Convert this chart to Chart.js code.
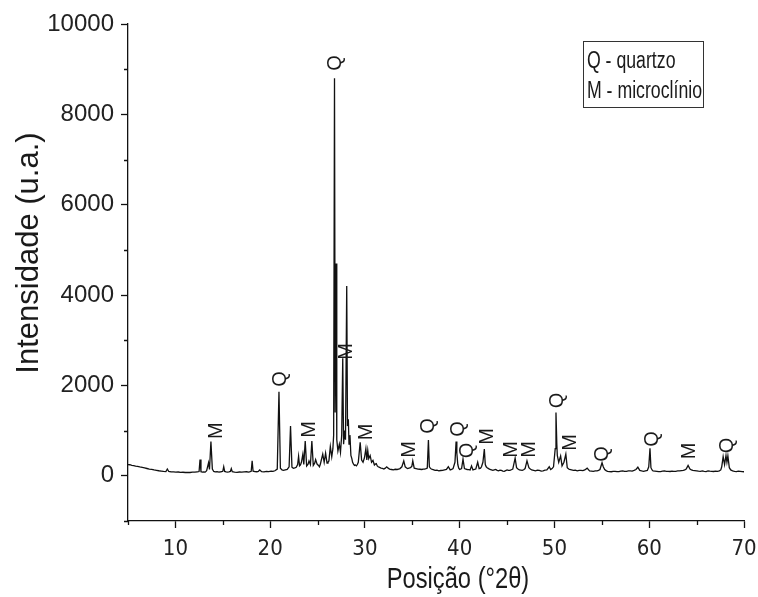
<!DOCTYPE html>
<html>
<head>
<meta charset="utf-8">
<script src="https://cdn.jsdelivr.net/npm/chart.js@4.4.1/dist/chart.umd.min.js"></script>
<style>
  html, body { margin: 0; padding: 0; background: #fff; }
  #wrap { width: 758px; height: 597px; }
</style>
</head>
<body>
<div id="wrap"><canvas id="c" width="758" height="597"></canvas></div>
<script>
// 2θ positions (degrees)
const twoTheta = [
  5.0, 5.2, 5.4, 5.6, 5.8, 6.0, 6.25, 6.5, 6.75, 7.0,
  7.25, 7.5, 7.75, 8.0, 8.25, 8.5, 8.75, 9.0, 9.15, 9.3,
  9.55, 9.8, 10.05, 10.3, 10.55, 10.8, 11.05, 11.3, 11.55, 11.8,
  12.05, 12.3, 12.5, 12.6, 12.7, 12.85, 13.0, 13.15, 13.3, 13.5,
  13.6, 13.75, 13.9, 14.05, 14.2, 14.4, 14.6, 14.8, 15.0, 15.1,
  15.2, 15.35, 15.5, 15.65, 15.8, 15.9, 16.0, 16.25, 16.5, 16.75,
  17.0, 17.25, 17.5, 17.75, 18.0, 18.1, 18.2, 18.4, 18.6, 18.75,
  18.9, 19.1, 19.35, 19.6, 19.85, 20.1, 20.3, 20.5, 20.75, 20.93,
  21.08, 21.25, 21.4, 21.6, 21.8, 22.0, 22.15, 22.3, 22.45, 22.6,
  22.75, 22.9, 23.0, 23.1, 23.2, 23.3, 23.45, 23.55, 23.7, 23.85,
  24.0, 24.1, 24.25, 24.4, 24.55, 24.7, 24.8, 24.95, 25.1, 25.2,
  25.3, 25.4, 25.55, 25.7, 25.85, 26.0, 26.1, 26.2, 26.35, 26.5,
  26.62, 26.7, 26.79, 26.86, 26.95, 27.03, 27.15, 27.3, 27.42, 27.55,
  27.66, 27.75, 27.85, 27.95, 28.08, 28.16, 28.25, 28.32, 28.42, 28.52,
  28.62, 28.7, 28.8, 28.9, 29.0, 29.1, 29.2, 29.3, 29.5, 29.65,
  29.8, 29.95, 30.1, 30.2, 30.3, 30.4, 30.55, 30.7, 30.85, 31.0,
  31.1, 31.2, 31.3, 31.4, 31.55, 31.7, 31.85, 32.0, 32.15, 32.3,
  32.45, 32.6, 32.8, 33.0, 33.2, 33.4, 33.55, 33.7, 33.9, 34.1,
  34.25, 34.4, 34.5, 34.65, 34.8, 34.95, 35.05, 35.2, 35.4, 35.6,
  35.8, 36.0, 36.15, 36.3, 36.45, 36.58, 36.7, 36.8, 36.9, 37.0,
  37.2, 37.4, 37.6, 37.8, 38.0, 38.2, 38.4, 38.6, 38.8, 39.0,
  39.15, 39.3, 39.5, 39.62, 39.7, 39.8, 39.9, 40.0, 40.2, 40.35,
  40.5, 40.65, 40.8, 40.95, 41.1, 41.25, 41.4, 41.55, 41.7, 41.9,
  42.05, 42.2, 42.3, 42.45, 42.6, 42.7, 42.8, 42.9, 43.05, 43.2,
  43.35, 43.5, 43.65, 43.8, 43.95, 44.1, 44.25, 44.4, 44.55, 44.7,
  44.85, 45.0, 45.15, 45.3, 45.45, 45.6, 45.85, 46.0, 46.15, 46.3,
  46.45, 46.6, 46.75, 46.9, 47.1, 47.3, 47.45, 47.6, 47.8, 48.0,
  48.2, 48.4, 48.6, 48.8, 49.0, 49.2, 49.45, 49.6, 49.75, 49.9,
  50.08, 50.16, 50.25, 50.3, 50.45, 50.65, 50.8, 51.0, 51.2, 51.35,
  51.5, 51.6, 51.8, 52.0, 52.2, 52.4, 52.6, 52.8, 53.0, 53.2,
  53.45, 53.7, 53.9, 54.1, 54.3, 54.5, 54.65, 54.8, 55.02, 55.15,
  55.3, 55.45, 55.6, 55.8, 56.0, 56.2, 56.4, 56.6, 56.8, 57.0,
  57.2, 57.4, 57.6, 57.8, 58.0, 58.2, 58.4, 58.6, 58.8, 59.0,
  59.2, 59.4, 59.6, 59.8, 59.95, 60.08, 60.18, 60.3, 60.4, 60.6,
  60.8, 61.0, 61.2, 61.4, 61.6, 61.8, 62.0, 62.2, 62.4, 62.6,
  62.8, 63.0, 63.2, 63.4, 63.6, 63.75, 63.9, 64.1, 64.3, 64.45,
  64.6, 64.8, 65.0, 65.2, 65.4, 65.6, 65.8, 66.0, 66.2, 66.4,
  66.6, 66.8, 67.0, 67.2, 67.4, 67.55, 67.65, 67.8, 67.95, 68.1,
  68.2, 68.3, 68.45, 68.6, 68.8, 69.0, 69.2, 69.4, 69.6, 69.8,
  70.0
];
// Intensity (u.a.) at each 2θ position
const intensity = [
  250, 245, 232, 228, 215, 208, 196, 188, 175, 162,
  150, 143, 130, 122, 112, 106, 98, 95, 150, 96,
  88, 86, 80, 84, 76, 79, 73, 78, 74, 82,
  80, 88, 95, 360, 92, 84, 88, 82, 112, 290,
  140, 760, 150, 96, 88, 92, 84, 90, 100, 200,
  96, 86, 80, 86, 96, 160, 90, 82, 78, 84,
  80, 86, 90, 84, 100, 330, 102, 94, 90, 96,
  130, 92, 88, 96, 92, 102, 98, 112, 150, 1860,
  170, 130, 122, 132, 142, 200, 1100, 190, 165, 175,
  190, 250, 430, 220, 240, 300, 480, 250, 770, 220,
  260, 330, 250, 770, 230, 280, 360, 260, 230, 200,
  260, 350, 480, 300, 500, 280, 300, 330, 650, 420,
  600, 900, 8800, 1400, 4700, 800, 550, 700, 520, 900,
  2600, 700, 1000, 800, 4200, 1100, 1250, 700, 900, 450,
  380, 300, 260, 230, 240, 220, 250, 300, 740, 350,
  300, 400, 600, 350, 560, 380, 450, 300, 340, 240,
  260, 270, 220, 200, 185, 170, 165, 150, 170, 200,
  170, 150, 140, 130, 145, 140, 150, 160, 200, 330,
  200, 175, 160, 170, 180, 210, 330, 170, 160, 150,
  145, 140, 150, 150, 160, 170, 790, 200, 170, 150,
  135, 120, 125, 110, 118, 120, 130, 140, 200, 130,
  140, 160, 300, 760, 500, 250, 170, 140, 160, 370,
  160, 150, 140, 135, 130, 220, 130, 140, 150, 300,
  160, 170, 200, 300, 590, 250, 200, 180, 160, 140,
  130, 120, 130, 140, 120, 110, 125, 120, 105, 100,
  115, 130, 120, 120, 135, 150, 390, 180, 150, 130,
  125, 120, 135, 160, 330, 180, 150, 130, 120, 110,
  125, 120, 105, 110, 125, 130, 200, 140, 160, 200,
  600, 1400, 700, 450, 300, 440, 220, 300, 480, 180,
  150, 140, 130, 120, 125, 110, 120, 120, 115, 130,
  170, 110, 105, 100, 110, 110, 120, 140, 290, 200,
  140, 115, 100, 95, 90, 98, 100, 92, 95, 105,
  110, 98, 100, 108, 110, 105, 120, 140, 190, 120,
  108, 100, 110, 120, 200, 610, 180, 130, 110, 105,
  100, 92, 95, 104, 110, 98, 100, 96, 105, 98,
  100, 108, 110, 115, 120, 130, 150, 230, 150, 130,
  120, 115, 110, 104, 100, 108, 100, 95, 110, 104,
  100, 96, 105, 100, 110, 130, 200, 425, 250, 450,
  300, 440, 180, 130, 110, 100, 95, 104, 100, 92,
  90
];
// Phase labels: text, 2θ and intensity where each rotated label sits
const peakLabels = ['M', 'Q', 'M', 'Q', 'M', 'M', 'M', 'Q', 'Q', 'Q', 'M', 'M', 'M', 'Q', 'M', 'Q', 'Q', 'M', 'Q'];
const peakLabelX = [14.18, 20.99, 24.05, 26.74, 27.90, 30.01, 34.60, 36.60, 39.72, 40.67, 42.78, 45.31, 47.31, 50.21, 51.59, 54.96, 60.24, 64.14, 68.15];
const peakLabelY = [1002, 2142, 1025, 9135, 2751, 969, 582, 1102, 1036, 560, 870, 582, 582, 1666, 737, 482, 814, 549, 671];
// Legend entries
const legendLines = ['Q - quartzo', 'M - microclínio'];
// Axis ticks
const xMajorTicks = [10, 20, 30, 40, 50, 60, 70];
const xMinorTicks = [5, 15, 25, 35, 45, 55, 65];
const yMajorTicks = [0, 2000, 4000, 6000, 8000, 10000];
const yMinorTicks = [-1000, 1000, 3000, 5000, 7000, 9000];
const xTitle = 'Posição (°2θ)';
const yTitle = 'Intensidade (u.a.)';

const FONT = "'Liberation Sans', Arial, Helvetica, sans-serif";
const NARROW = "'DejaVu Sans Condensed', 'Liberation Sans', sans-serif";
Chart.defaults.font.family = FONT;

const points = twoTheta.map((t, i) => ({ x: t, y: intensity[i] }));

// draw text horizontally condensed by factor sx around (x, y)
function condensedText(ctx, text, x, y, sx) {
  ctx.save();
  ctx.translate(x, y);
  ctx.scale(sx, 1);
  ctx.fillText(text, 0, 0);
  ctx.restore();
}

const decor = {
  id: 'decor',
  afterDraw(chart) {
    const ctx = chart.ctx;
    const xs = chart.scales.x, ys = chart.scales.y;
    ctx.save();
    ctx.strokeStyle = '#111';
    ctx.lineWidth = 1.3;
    // minor ticks
    ctx.beginPath();
    xMinorTicks.forEach(v => {
      const px = Math.round(xs.getPixelForValue(v)) + 0.5;
      ctx.moveTo(px, ys.bottom); ctx.lineTo(px, ys.bottom + 4);
    });
    yMinorTicks.forEach(v => {
      const py = Math.round(ys.getPixelForValue(v)) + 0.5;
      ctx.moveTo(xs.left, py); ctx.lineTo(xs.left - 4, py);
    });
    ctx.stroke();

    // peak labels, rotated
    ctx.fillStyle = '#1a1a1a';
    ctx.font = '20px ' + FONT;
    ctx.textAlign = 'center';
    ctx.textBaseline = 'middle';
    peakLabels.forEach((t, i) => {
      const px = xs.getPixelForValue(peakLabelX[i]);
      const py = ys.getPixelForValue(peakLabelY[i]);
      ctx.save();
      ctx.translate(px, py);
      ctx.rotate(-Math.PI / 2);
      ctx.fillText(t, 0, 1);
      ctx.restore();
    });

    // legend box
    const lx = xs.getPixelForValue(53.0), rx = xs.getPixelForValue(65.67);
    const ty = ys.getPixelForValue(9622), by = ys.getPixelForValue(8161);
    ctx.lineWidth = 1;
    ctx.strokeStyle = '#333';
    ctx.strokeRect(Math.round(lx) + 0.5, Math.round(ty) + 0.5, Math.round(rx - lx), Math.round(by - ty));
    ctx.font = '23px ' + FONT;
    ctx.textAlign = 'left';
    ctx.textBaseline = 'alphabetic';
    ctx.fillStyle = '#1a1a1a';
    condensedText(ctx, legendLines[0], lx + 4, ty + 27, 0.77);
    condensedText(ctx, legendLines[1], lx + 4, ty + 57, 0.77);

    // axis titles
    ctx.textAlign = 'center';
    ctx.textBaseline = 'middle';
    ctx.font = '30px ' + FONT;
    condensedText(ctx, xTitle, 458, 580, 0.79);
    ctx.font = '31px ' + FONT;
    ctx.save();
    ctx.translate(29, 253);
    ctx.rotate(-Math.PI / 2);
    ctx.fillText(yTitle, 0, 0);
    ctx.restore();
    ctx.restore();
  }
};

new Chart(document.getElementById('c'), {
  type: 'line',
  data: {
    datasets: [{
      data: points,
      borderColor: '#111',
      borderWidth: 1.3,
      pointRadius: 0,
      tension: 0,
      fill: false
    }]
  },
  options: {
    responsive: false,
    animation: false,
    layout: { padding: { left: 0, right: 14, top: 24, bottom: 0 } },
    plugins: { legend: { display: false }, tooltip: { enabled: false } },
    scales: {
      x: {
        type: 'linear',
        min: 5, max: 70,
        afterFit: s => { s.height = 76; s.paddingLeft = 0; s.paddingRight = 0; },
        afterBuildTicks: s => { s.ticks = xMajorTicks.map(v => ({ value: v })); },
        border: { display: true, color: '#111', width: 1.3 },
        grid: { display: true, drawOnChartArea: false, drawTicks: true, tickLength: 7, tickColor: '#111', tickWidth: 1.3 },
        ticks: { color: '#222', font: { size: 22, family: NARROW }, padding: 8, maxRotation: 0, callback: v => String(v) }
      },
      y: {
        type: 'linear',
        min: -1000, max: 10000,
        afterFit: s => { s.width = 128; s.paddingTop = 0; s.paddingBottom = 0; },
        afterBuildTicks: s => { s.ticks = yMajorTicks.map(v => ({ value: v })); },
        border: { display: true, color: '#111', width: 1.3 },
        grid: { display: true, drawOnChartArea: false, drawTicks: true, tickLength: 7, tickColor: '#111', tickWidth: 1.3 },
        ticks: { color: '#222', font: { size: 24 }, padding: 7, callback: v => String(v) }
      }
    }
  },
  plugins: [decor]
});
</script>
</body>
</html>
